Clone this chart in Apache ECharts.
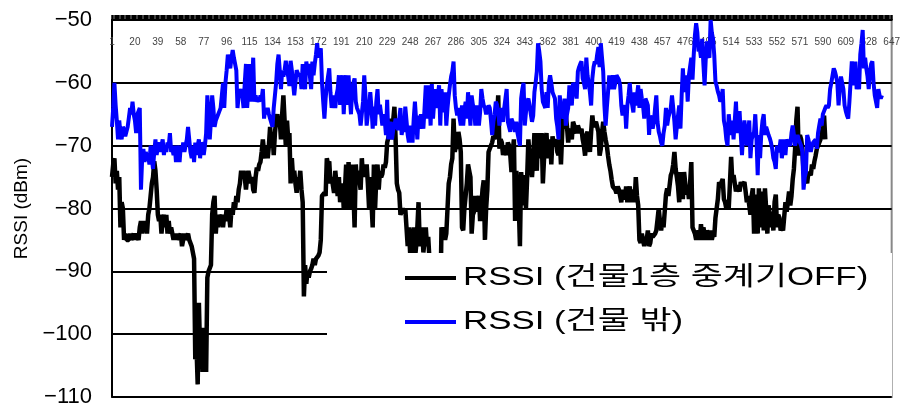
<!DOCTYPE html>
<html>
<head>
<meta charset="utf-8">
<script src="https://cdn.jsdelivr.net/npm/echarts@6/dist/echarts.min.js"></script>
<style>
  html, body { margin: 0; padding: 0; background: #fff; }
  #chart { width: 903px; height: 408px; }
</style>
</head>
<body>
<div id="chart"></div>
<script>
// Sample numbers 1..647 along the route
const sampleCount = 647;
const categories = [];
for (let n = 1; n <= sampleCount; n++) categories.push(String(n));

// y-axis ticks (dBm)
const yTicks = { min: -110, max: -50, step: 10 };

// RSSI inside building, 1st floor, repeater OFF
const rssiRepeaterOff = [
  -75,-73,-72,-76,-74,-77,-75,-83,-79,-80,-85,-84,-85,-85,-85,-84,-85,-85,-84,-85,
  -84,-84,-85,-83,-82,-84,-82,-83,-82,-84,-81,-80,-78,-76,-75,-72.5,-74,-77,-81,-82,
  -81,-84,-82,-81,-83,-81,-84,-82,-84,-83,-84,-85,-84,-85,-84,-85,-85,-84,-86,-85,
  -84,-85,-85,-84,-85,-85,-86,-86,-88,-104,-102,-108,-95,-103,-99,-106,-99,-104,-106,-91,
  -90,-90,-89,-81,-79,-78,-84,-81,-83,-81,-82,-81,-83,-81,-82,-80,-82,-81,-83,-80,
  -81,-79,-80,-78,-79,-77,-76,-74,-75,-74,-75,-77,-75,-74,-74,-76,-75,-77,-77.5,-75,
  -73.5,-74,-73,-72.6,-71,-69,-71,-72,-70,-72,-70,-67,-70,-68,-71.5,-68,-66,-65,-67,-66,
  -69,-65,-62,-66,-70,-66,-69,-68,-76,-72,-75,-74,-76,-77.5,-75,-76,-74,-77,-79,-94,
  -89,-92,-90,-91,-90,-89.6,-89,-88,-89,-88,-88,-87.5,-87,-85,-78,-78,-77.5,-78,-72,-73,
  -72.5,-76,-75,-75,-77.5,-74,-76,-78,-75,-79,-77,-76,-80,-77,-73,-80,-72.6,-76,-80,-73,
  -77,-83,-73,-76,-74,-74,-77,-72,-75,-73,-75,-73,-76,-80,-75,-79,-83,-73,-80,-75,
  -73,-77,-74,-75,-74.5,-73,-73.5,-72.6,-69.5,-69.5,-68,-65.7,-69,-66,-63.8,-69,-76,-77,-77.5,-81,
  -81,-80,-80.5,-80,-83,-86,-83,-87,-88,-85,-83,-88,-86,-83,-79,-86,-84,-83,-87,-85,
  -83,-86,-84.5,-88,-90,-88,-93,-89,-95,-91,-101,-107,-96,-83,-84,-83,-85,-84,-80,-76,
  -75,-73,-72,-65.7,-71,-70,-70.5,-67.8,-69,-71,-83,-83.5,-80,-78,-76,-73,-74,-75,-84,-81,
  -80.5,-78,-80.5,-79,-78,-82,-79.5,-77,-75.5,-85,-80,-77,-71,-70.5,-70,-69.5,-68.5,-69,-67,-65.7,
  -62,-70.5,-69,-69.5,-71.5,-70,-70,-71.5,-69.5,-70,-71.5,-74.2,-71,-69,-82,-74,-77,-79,-86,-74.2,
  -77,-79.5,-74.7,-80,-75,-69,-71.5,-73,-75,-72,-68,-71,-74,-68,-70,-72,-68,-76,-72,-69,
  -68,-72,-70,-69,-73,-68.5,-70,-70,-69,-71,-71.5,-69,-73,-68,-64.7,-67.3,-65.2,-67,-69.5,-67.3,
  -68,-69,-66.2,-66.8,-67.5,-68,-66.8,-67,-68,-67.3,-69,-70,-71.6,-68.3,-67.8,-69,-71,-67.8,-65.2,-67,
  -67.3,-66.2,-67,-67.8,-71.6,-70.5,-68,-66.2,-67.8,-69,-70,-71.6,-73,-74,-75.4,-76.5,-76.5,-77,-77.6,-76.5,
  -77,-77,-79,-77,-78,-78.5,-76.5,-79,-77.5,-76.5,-79,-77,-77.6,-79,-75,-78,-79.5,-85,-85.5,-84,
  -85,-86,-84.5,-85,-83.5,-86,-85.5,-84,-84.5,-84.5,-84,-83.5,-81.8,-80,-82,-83.5,-81.8,-83,-82.8,-77.8,
  -76.8,-78,-77.8,-74.7,-74.2,-73,-71,-73.7,-75,-76.5,-79,-74.2,-77,-78.5,-74.2,-76,-77.8,-76.5,-78.5,-76,
  -72.6,-83,-82.8,-84,-85,-83.5,-84,-85,-82.5,-85,-83,-83,-85,-83.5,-84,-85,-83.5,-85,-84,-84.5,
  -81.5,-80,-78.5,-75.8,-76.3,-76,-75.3,-78.5,-79,-80,-79,-80,-76,-71.8,-75.8,-74.7,-76,-77.3,-76.3,-76.8,
  -77.3,-75.8,-76.3,-76,-75.8,-77.3,-79,-78,-77.8,-81,-78,-76.8,-84,-77.8,-81,-84,-76.8,-83,-79,-77.3,
  -83.5,-76.8,-80,-84,-79.5,-81,-83,-80.5,-83.5,-79,-77.8,-83,-81,-81.5,-83.5,-83,-83.5,-83.5,-79,-80.5,
  -79,-77.3,-79.5,-78,-75.4,-73.7,-70.5,-66,-63.8,-71.6,-68.3,-69,-70.5,-74.2,-74.7,-75.4,-76,-74.2,-74.5,-74.7,
  -73,-73.7,-72.5,-71.6,-70.5,-70,-70,-69,-68.3,-67,-65.2,-69
];

// RSSI outside the building
const rssiOutside = [
  -67,-64,-60,-63.5,-66,-69,-66,-68,-69,-67,-67.5,-68.5,-68.5,-67,-65.5,-64,-65,-63,-65,-66,
  -68,-65,-64.5,-64,-77,-72,-70.5,-72.6,-71,-72,-71.5,-73,-70,-72,-73.7,-71,-69,-71.5,-70,-69.5,
  -71,-70,-69,-71.5,-70,-71,-69.5,-70,-68,-71,-70.5,-71.5,-70,-72.6,-70,-71,-72.6,-70,-71,-69.5,
  -71,-70,-69,-67,-69,-71,-72,-70,-72.6,-69.5,-71.5,-70,-69,-72,-69.5,-70,-71.5,-70,-68,-62,
  -65,-69,-66,-62,-64,-67,-66,-66,-65,-64.5,-64,-62,-60,-64,-60,-58,-55.5,-56.5,-57.7,-56,
  -54.8,-56,-57,-58,-64,-62,-61.5,-61,-62,-64,-60,-57,-64,-61,-57,-63,-60,-56,-63,-62,
  -63,-62.5,-63,-62,-62.5,-61,-65.7,-64,-65,-64,-65,-65.7,-66,-67,-64,-62,-60,-57,-55.5,-58,
  -61,-58,-59,-58,-56.5,-58,-59,-60.5,-56.5,-58,-60,-62,-60,-58,-58.5,-58.2,-59,-61,-57,-60,
  -61,-56.6,-58.2,-57,-59,-61,-56.6,-58.8,-57,-55.5,-53.7,-56,-56.2,-54.5,-60,-63,-65.7,-62.5,-60.4,-59,
  -57.7,-61.5,-64,-62,-62,-64,-62,-61,-58.8,-63.5,-61,-58.8,-65,-61,-58.8,-63.5,-58.8,-62,-65,-61,
  -60,-59.3,-63,-64,-64.5,-65,-66.8,-66.8,-63,-58.8,-62,-66.8,-65,-64,-61.5,-64,-67.3,-63.8,-66.8,-63,
  -61,-65,-63.5,-65,-66.8,-65,-66,-68.3,-62.7,-69,-67,-66.2,-69,-67.5,-66.8,-65.7,-66.8,-67.5,-67.8,-64,
  -68.3,-67,-67.8,-63.8,-66,-68.3,-69.5,-66.8,-68,-69.5,-65.7,-63,-66,-69,-65.2,-67.3,-65,-64.7,-67.3,-64,
  -60.4,-65.7,-60.4,-63,-66.8,-60.2,-65.7,-63,-61,-64,-62,-60.4,-66.8,-61,-63,-64.7,-61.5,-66.8,-64,-62,
  -60.4,-59,-58.2,-56.6,-62,-64,-65.2,-64,-65.5,-66.8,-63.6,-66.8,-64.5,-63,-65.7,-61.5,-64,-66.8,-62,-63.5,
  -64,-66.8,-63.6,-65,-66.8,-64.7,-61,-62.5,-63.6,-64,-65,-65.2,-63.6,-64,-66,-68.3,-66.2,-65,-63,-63.5,
  -64.7,-66.8,-64,-64,-66.2,-64,-62.5,-61,-66.2,-67,-67.8,-65.7,-66,-66.8,-67.8,-66.2,-68,-69,-70,-62.5,
  -61,-60,-66.8,-64.7,-63,-62.5,-63.6,-65,-66.2,-65.2,-61.5,-60,-58.2,-53.7,-55,-56.6,-61,-63,-63.5,-64,
  -61.5,-64,-60,-58.8,-60,-61.5,-62,-62.5,-65.7,-67,-69,-62,-64,-64.5,-65.7,-62.5,-66.8,-65,-64,-60.4,
  -62,-63.6,-60,-60.4,-61,-62.5,-58.2,-57.5,-57,-56.6,-59.3,-60,-61,-56,-58.8,-60,-61.5,-63.6,-59.3,-57.5,
  -56.6,-57,-55.5,-54.3,-57.5,-53.7,-56,-58.2,-63.6,-66.8,-64,-61.5,-58.8,-60,-61,-58.8,-61,-60,-58.8,-58.8,
  -59.5,-60.4,-63.6,-65.2,-64,-63.6,-67.3,-63.6,-62,-60,-62.5,-63.5,-64.7,-61.5,-63.6,-62,-60.4,-64,-61,-62.5,
  -63.6,-65.7,-62.5,-63,-63.6,-68.3,-65.2,-66,-67.3,-66.2,-64,-62,-66.2,-67.8,-68.5,-69.5,-70,-68,-66.8,-64,
  -66.8,-65.5,-65.2,-64,-62,-64,-66.2,-69,-67,-65.2,-63.6,-67.3,-62,-57.7,-61,-61.4,-58.8,-63,-58.8,-58.8,
  -56,-59.5,-55.6,-52.4,-50.5,-52,-55,-54.5,-56,-53,-57,-60.4,-56,-53.4,-55.5,-56,-50,-52,-53,-55.6,
  -59.8,-60.5,-61.4,-62,-63,-62.5,-61,-66,-67,-69,-70,-65,-67,-68.3,-66,-69,-66,-63,-68,-66,
  -64.5,-68.3,-71.5,-68,-66,-66,-70,-68,-66,-72,-69,-68.3,-67.8,-65,-69,-74.7,-68.3,-72,-68,-66,
  -65,-68.3,-67,-67.3,-68.3,-68.8,-69.5,-70.5,-72,-72.6,-73.7,-70,-71,-70.5,-69,-72,-70.5,-69,-71.5,-69,
  -69.5,-69.5,-70,-68,-66.8,-68.3,-70,-69,-68.3,-69,-69,-70,-71,-77,-75,-74.2,-68.3,-69,-70,-71,
  -70,-69.5,-69.5,-69,-70.5,-68,-66.8,-65.7,-66.8,-65,-64.5,-64,-63.6,-64,-63.6,-61,-60,-60,-57.7,-58.2,
  -59,-60,-63.6,-61,-59,-58.8,-61,-63.6,-64.5,-65.2,-65.7,-63,-63,-56.6,-60.4,-58,-56.6,-61,-60,-61,
  -55.5,-53.7,-51.6,-57.7,-56,-57.7,-59,-61,-58.2,-57,-56.6,-60,-62,-63,-64,-61,-62,-62.5,-62
];

const seriesNames = ['RSSI (건물1층 중계기OFF)', 'RSSI (건물 밖)'];
const seriesColors = ['#000000', '#0000ff'];
const FONT = '"Liberation Sans", "Noto Sans CJK KR", sans-serif';

// Legend panel: white box over the lower-right of the plot, key lines + names
const legendBox = { x: 327, y: 253, w: 565, h: 143 };
const legendRows = [278, 322];
const legendGraphics = [{
  type: 'rect', z: 100, silent: true,
  shape: { x: legendBox.x, y: legendBox.y, width: legendBox.w, height: legendBox.h },
  style: { fill: '#fff' }
}];
seriesNames.forEach((name, i) => {
  legendGraphics.push({
    type: 'line', z: 101, silent: true,
    shape: { x1: 405, y1: legendRows[i], x2: 456, y2: legendRows[i] },
    style: { stroke: seriesColors[i], lineWidth: 4 }
  });
  legendGraphics.push({
    type: 'text', z: 101, silent: true,
    x: 463, y: legendRows[i], scaleX: 1.34,
    style: {
      text: name, fill: '#000', verticalAlign: 'middle', align: 'left',
      font: '26px ' + FONT
    }
  });
});

const chart = echarts.init(document.getElementById('chart'), null, { renderer: 'canvas' });

chart.setOption({
  animation: false,
  backgroundColor: '#fff',
  grid: {
    left: 112, right: 8, top: 20, bottom: 10,
    show: true, borderColor: '#888', borderWidth: 2, backgroundColor: 'transparent'
  },
  xAxis: {
    type: 'category',
    position: 'top',
    boundaryGap: false,
    data: categories,
    axisLine: { lineStyle: { color: '#000', width: 2 } },
    axisTick: { show: true, interval: 0, length: 5, lineStyle: { color: '#000', width: 1.5 } },
    axisLabel: {
      inside: true, interval: 18, margin: 17,
      color: '#444', fontSize: 10, fontFamily: FONT
    },
    splitLine: { show: false }
  },
  yAxis: {
    type: 'value',
    min: yTicks.min, max: yTicks.max, interval: yTicks.step,
    name: 'RSSI (dBm)',
    nameLocation: 'middle',
    nameGap: 80,
    nameRotate: 90,
    nameTextStyle: { fontSize: 19, color: '#000', fontFamily: FONT },
    axisLine: { show: true, lineStyle: { color: '#000', width: 2 } },
    axisTick: { show: false },
    axisLabel: {
      margin: 20, fontSize: 22, color: '#000', fontFamily: FONT,
      formatter: v => String(v).replace('-', '\u2212')
    },
    splitLine: { lineStyle: { color: '#000', width: 2 } }
  },
  graphic: { elements: legendGraphics },
  series: [
    {
      name: seriesNames[0],
      type: 'line',
      data: rssiRepeaterOff,
      symbol: 'none',
      lineStyle: { color: seriesColors[0], width: 4.5 },
      itemStyle: { color: seriesColors[0] }
    },
    {
      name: seriesNames[1],
      type: 'line',
      data: rssiOutside,
      symbol: 'none',
      lineStyle: { color: seriesColors[1], width: 4 },
      itemStyle: { color: seriesColors[1] }
    }
  ]
});
</script>
</body>
</html>
